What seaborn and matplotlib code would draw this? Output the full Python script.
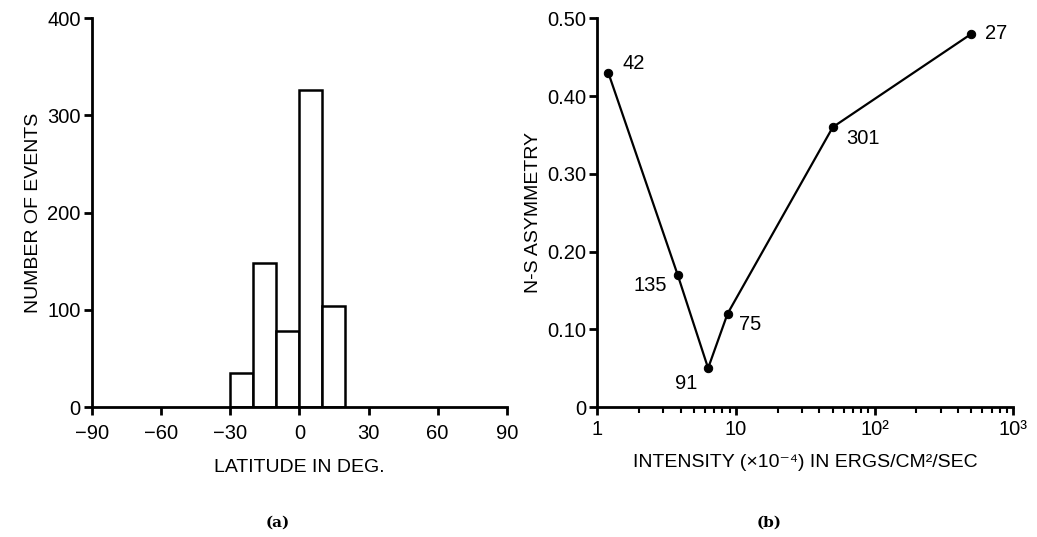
import numpy as np
import pandas as pd
import matplotlib
matplotlib.use('Agg')
import matplotlib.pyplot as plt
from matplotlib.ticker import FixedLocator, FixedFormatter, LogLocator, NullFormatter
import seaborn as sns

# Panel (a): latitude histogram
lat_edges = [-30, -20, -10, 0, 10, 20]
lat_counts = [35, 148, 78, 326, 104]

# Panel (b): N-S asymmetry vs intensity
intensity = [1.2, 3.8, 6.3, 8.7, 50, 500]
asymmetry = [0.43, 0.17, 0.05, 0.12, 0.36, 0.48]
point_labels = ['42', '135', '91', '75', '301', '27']

sns.set_style('ticks')
plt.rcParams['font.family'] = ['Liberation Sans', 'DejaVu Sans']
plt.rcParams['text.color'] = 'black'
plt.rcParams['axes.labelcolor'] = 'black'
plt.rcParams['axes.edgecolor'] = 'black'
plt.rcParams['xtick.color'] = 'black'
plt.rcParams['ytick.color'] = 'black'
plt.rcParams['axes.linewidth'] = 2
plt.rcParams['xtick.major.width'] = 2
plt.rcParams['ytick.major.width'] = 2
plt.rcParams['xtick.major.size'] = 6
plt.rcParams['ytick.major.size'] = 6
plt.rcParams['xtick.direction'] = 'out'
plt.rcParams['ytick.direction'] = 'out'

fig = plt.figure(figsize=(10.37, 5.37), dpi=100)
ax1 = fig.add_axes([0.0887, 0.242, 0.400, 0.724])
ax2 = fig.add_axes([0.576, 0.242, 0.401, 0.724])

# histogram
centers = [(a + b) / 2 for a, b in zip(lat_edges[:-1], lat_edges[1:])]
hist_df = pd.DataFrame({'lat': centers, 'n': lat_counts})
sns.histplot(data=hist_df, x='lat', weights='n', bins=lat_edges, ax=ax1,
             color='white', edgecolor='black', linewidth=1.8, alpha=1)
ax1.set_xlim(-90, 90)
ax1.set_ylim(0, 400)
ax1.set_xticks([-90, -60, -30, 0, 30, 60, 90])
ax1.set_xticklabels(['\u221290', '\u221260', '\u221230', '0', '30', '60', '90'])
ax1.set_yticks([0, 100, 200, 300, 400])
ax1.set_xlabel('LATITUDE IN DEG.', fontsize=14, labelpad=12)
ax1.set_ylabel('NUMBER OF EVENTS', fontsize=14, labelpad=4)
ax1.tick_params(labelsize=14.5)
ax1.tick_params(axis='x', pad=6)
ax1.tick_params(axis='y', pad=2)
sns.despine(ax=ax1)

# line plot
line_df = pd.DataFrame({'I': intensity, 'A': asymmetry})
sns.lineplot(data=line_df, x='I', y='A', ax=ax2, color='black', linewidth=1.6,
             marker='o', markersize=6, markeredgecolor='black')
ax2.set_xscale('log')
ax2.set_xlim(1, 1000)
ax2.set_ylim(0, 0.5)
ax2.xaxis.set_major_locator(FixedLocator([1, 10, 100, 1000]))
ax2.xaxis.set_major_formatter(FixedFormatter(['1', '10', '10\u00b2', '10\u00b3']))
ax2.xaxis.set_minor_locator(LogLocator(base=10, subs=np.arange(2, 10)))
ax2.xaxis.set_minor_formatter(NullFormatter())
ax2.tick_params(axis='x', which='minor', length=4, width=1.5, direction='out')
ax2.set_yticks([0, 0.1, 0.2, 0.3, 0.4, 0.5])
ax2.set_yticklabels(['0', '0.10', '0.20', '0.30', '0.40', '0.50'])
ax2.set_xlabel('INTENSITY (\u00d710\u207b\u2074) IN ERGS/CM\u00b2/SEC', fontsize=14, labelpad=11)
ax2.set_ylabel('N-S ASYMMETRY', fontsize=14, labelpad=4)
ax2.tick_params(labelsize=14.5)
ax2.tick_params(axis='x', pad=3)
ax2.tick_params(axis='y', pad=2)
sns.despine(ax=ax2)

offsets = [(10, 0), (-8, -8), (-8, -4), (8, -8), (10, -8), (10, 0)]
aligns = [('left', 'bottom'), ('right', 'center'), ('right', 'top'),
          ('left', 'center'), ('left', 'center'), ('left', 'center')]
for x, y, lab, off, (ha, va) in zip(intensity, asymmetry, point_labels, offsets, aligns):
    ax2.annotate(lab, (x, y), xytext=off, textcoords='offset points',
                 ha=ha, va=va, fontsize=14.5)

fig.text(0.268, 0.026, '(a)', fontsize=11, fontweight='bold', family='DejaVu Serif', ha='center', va='center')
fig.text(0.742, 0.026, '(b)', fontsize=11, fontweight='bold', family='DejaVu Serif', ha='center', va='center')

fig.savefig('out.png', dpi=100, facecolor='white')
